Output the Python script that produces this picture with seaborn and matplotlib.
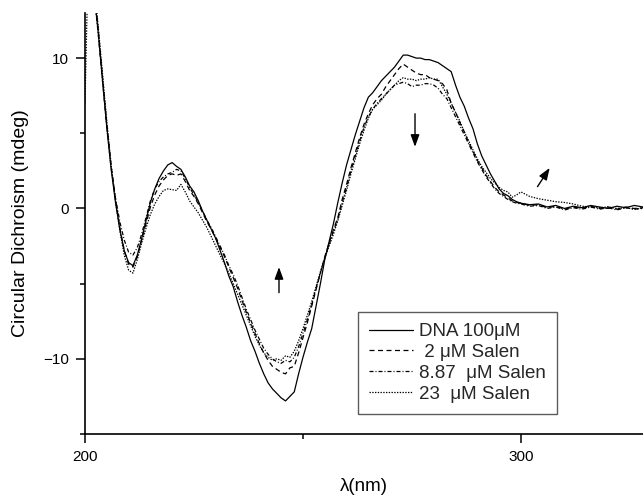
import numpy as np
import pandas as pd
import matplotlib
matplotlib.use("Agg")
import matplotlib.pyplot as plt
import seaborn as sns

# ---------------- data ----------------
wavelength = list(range(200, 301)) + list(range(302, 329, 2))

dna_100uM = [
    24, 19, 14.5, 11.8, 8.6, 5.4, 2.6, 0.4, -1.4, -2.8,
    -3.6, -3.8, -3.1, -2.0, -0.8, 0.4, 1.3, 2.0, 2.5, 2.9,
    3.05, 2.8, 2.6, 2.1, 1.5, 1.1, 0.5, -0.2, -0.8, -1.4,
    -2.0, -2.8, -3.6, -4.5, -5.2, -6.2, -7.1, -7.9, -8.8, -9.5,
    -10.3, -11.0, -11.6, -12.0, -12.3, -12.6, -12.8, -12.5, -12.2, -11.0,
    -9.9, -8.9, -8.0, -6.5, -5.0, -3.4, -2.2, -1.0, 0.4, 1.7,
    2.9, 3.9, 4.9, 5.8, 6.7, 7.4, 7.7, 8.1, 8.5, 8.8,
    9.1, 9.4, 9.8, 10.2, 10.2, 10.1, 10.0, 10.0, 9.9, 9.9,
    9.8, 9.7, 9.5, 9.3, 9.1, 8.2, 7.4, 6.8, 6.0, 5.3,
    4.3, 3.5, 2.9, 2.3, 1.8, 1.3, 1.0, 0.85, 0.6, 0.45,
    0.35,
    0.25, 0.3, 0.1, 0.2, 0.0, 0.15, 0.05, 0.2, 0.1, 0.0, 0.15, 0.05, 0.2, 0.1,
]

salen_2uM = [
    24, 19, 14.8, 12.0, 8.8, 5.6, 2.8, 0.6, -1.3, -2.8,
    -3.7, -3.9, -3.2, -2.1, -1.0, 0.1, 0.9, 1.5, 1.9, 2.2,
    2.3, 2.2, 2.3, 1.8, 1.2, 0.8, 0.3, -0.3, -0.9, -1.4,
    -2.0, -2.6, -3.2, -3.9, -4.6, -5.3, -6.1, -6.9, -7.6, -8.3,
    -9.0, -9.6, -10.1, -10.5, -10.7, -10.9, -11.0, -10.6, -10.5, -9.6,
    -8.6, -7.6, -6.5, -5.4, -4.3, -3.2, -2.3, -1.4, -0.6, 0.6,
    1.6, 2.7, 3.7, 4.7, 5.6, 6.3, 6.9, 7.3, 7.6, 8.1,
    8.5, 8.9, 9.3, 9.6, 9.4, 9.2, 9.0, 8.9, 8.9, 8.7,
    8.6, 8.5, 8.3, 7.9, 7.0, 6.4, 5.7, 5.1, 4.4, 3.8,
    3.2, 2.7, 2.2, 1.8, 1.4, 1.1, 0.9, 0.7, 0.5, 0.4,
    0.35,
    0.2, 0.25, 0.05, 0.15, -0.05, 0.1, 0.0, 0.15, 0.0, 0.1, -0.05, 0.1, 0.0, 0.05,
]

salen_887uM = [
    24, 19, 14.6, 11.7, 8.5, 5.4, 2.7, 0.7, -0.9, -2.1,
    -2.9, -3.1, -2.6, -1.7, -0.6, 0.5, 1.3, 1.8, 2.1, 2.3,
    2.4, 2.6, 2.5, 2.0, 1.4, 0.9, 0.4, -0.2, -0.8, -1.3,
    -1.9, -2.5, -3.1, -3.8, -4.4, -5.1, -5.9, -6.7, -7.4, -8.1,
    -8.7, -9.3, -9.7, -10.0, -10.2, -10.3, -10.1, -10.2, -9.9, -9.2,
    -8.3, -7.4, -6.4, -5.3, -4.3, -3.3, -2.4, -1.5, -0.7, 0.4,
    1.4, 2.5, 3.5, 4.5, 5.4, 6.1, 6.6, 7.0, 7.3, 7.6,
    7.9, 8.2, 8.3, 8.4, 8.3, 8.1, 8.2, 8.2, 8.3, 8.3,
    8.2, 8.0, 7.6, 7.3, 6.7, 6.1, 5.5, 4.9, 4.3, 3.7,
    3.1, 2.6, 2.1, 1.7, 1.3, 1.0, 0.8, 0.6, 0.45, 0.35,
    0.3,
    0.15, 0.2, 0.0, 0.1, -0.1, 0.05, -0.05, 0.1, -0.05, 0.05, -0.1, 0.05, -0.05, 0.0,
]

salen_23uM = [
    7.0, 20, 15.2, 12.2, 9.0, 5.8, 2.9, 0.5, -1.5, -3.1,
    -4.1, -4.3, -3.4, -2.3, -1.3, -0.4, 0.3, 0.8, 1.2, 1.3,
    1.25, 1.2, 1.6, 1.1, 0.5, 0.1, -0.3, -0.8, -1.3, -1.9,
    -2.5, -3.1, -3.7, -4.3, -5.0, -5.7, -6.4, -7.1, -7.8, -8.5,
    -9.1, -9.6, -9.9, -10.1, -10.0, -10.1, -9.8, -9.9, -9.5, -8.8,
    -8.0, -7.1, -6.2, -5.2, -4.2, -3.3, -2.5, -1.7, -0.8, 0.2,
    1.2, 2.3, 3.3, 4.3, 5.2, 6.0, 6.6, 6.9, 7.2, 7.6,
    7.9, 8.2, 8.5, 8.7, 8.6, 8.6, 8.5, 8.6, 8.6, 8.7,
    8.6, 8.6, 8.1, 7.6, 7.0, 6.4, 5.8, 5.1, 4.5, 3.9,
    3.3, 2.8, 2.4, 2.0, 1.7, 1.4, 1.2, 1.1, 0.75, 0.9,
    1.1,
    0.8, 0.65, 0.55, 0.45, 0.4, 0.3, 0.15, 0.1, 0.05, 0.1, 0.0, 0.05, -0.05, 0.05,
]

series_labels = ["DNA 100\u03bcM", " 2 \u03bcM Salen", "8.87  \u03bcM Salen", "23  \u03bcM Salen"]
series_values = [dna_100uM, salen_2uM, salen_887uM, salen_23uM]

x_ticks = [200, 300]
y_ticks = [-10, 0, 10]

# arrow annotations (tail -> head)
arrow_tails = [(244.5, -5.6), (275.7, 6.3), (303.8, 1.45)]
arrow_heads = [(244.5, -3.9), (275.7, 4.1), (306.6, 2.7)]

# ---------------- build table ----------------
frames = []
for lab, vals in zip(series_labels, series_values):
    frames.append(pd.DataFrame({"wl": wavelength, "cd": vals, "sample": lab}))
df = pd.concat(frames, ignore_index=True)

# ---------------- plot ----------------
sns.set_theme(style="ticks")
plt.rcParams["font.family"] = ["Liberation Sans", "DejaVu Sans"]
plt.rcParams["axes.linewidth"] = 1.2

fig = plt.figure(figsize=(6.43, 4.96), dpi=100)
ax = fig.add_axes([85 / 643, 62 / 496, 558 / 643, 421 / 496])

dash_map = {
    series_labels[0]: "",
    series_labels[1]: (4, 2.8),
    series_labels[2]: (3.2, 1.6, 0.8, 1.6),
    series_labels[3]: (1.1, 1.1),
}
sns.lineplot(data=df, x="wl", y="cd", hue="sample", style="sample",
             palette=["black"] * 4, dashes=dash_map, estimator=None,
             sort=False, linewidth=0.9, ax=ax)

ax.set_xlim(200, 328)
ax.set_ylim(-15, 13)
ax.set_xticks(x_ticks)
ax.set_yticks(y_ticks)
ax.xaxis.set_minor_locator(matplotlib.ticker.MultipleLocator(50))
ax.yaxis.set_minor_locator(matplotlib.ticker.MultipleLocator(5))
ax.tick_params(axis="both", which="major", direction="out", length=6.5, width=1.1,
               labelsize=11, color="black", labelcolor="black", pad=5)
ax.tick_params(axis="both", which="minor", direction="out", length=3.5, width=1.1,
               color="black")
for s in ["top", "right"]:
    ax.spines[s].set_visible(False)
for s in ["left", "bottom"]:
    ax.spines[s].set_color("black")

ax.set_xlabel("\u03bb(nm)", fontsize=13.5, color="black", labelpad=10)
ax.set_ylabel("Circular Dichroism (mdeg)", fontsize=14, color="black", labelpad=10)

for t, h in zip(arrow_tails, arrow_heads):
    ax.annotate("", xy=h, xytext=t,
                arrowprops=dict(arrowstyle="-|>,head_length=0.6,head_width=0.22",
                                color="black", lw=1.0, shrinkA=0, shrinkB=0))

handles, labels = ax.get_legend_handles_labels()
leg = ax.legend(handles, labels, loc="lower left", bbox_to_anchor=(0.489, 0.0475),
                borderaxespad=0, fontsize=13.5, frameon=True, fancybox=False,
                handlelength=2.35, handletextpad=0.3, labelspacing=0.2,
                borderpad=0.6)
leg.get_frame().set_edgecolor("#333333")
leg.get_frame().set_linewidth(1.0)
for line in leg.get_lines():
    line.set_linewidth(0.9)

fig.savefig("out.png", dpi=100)
